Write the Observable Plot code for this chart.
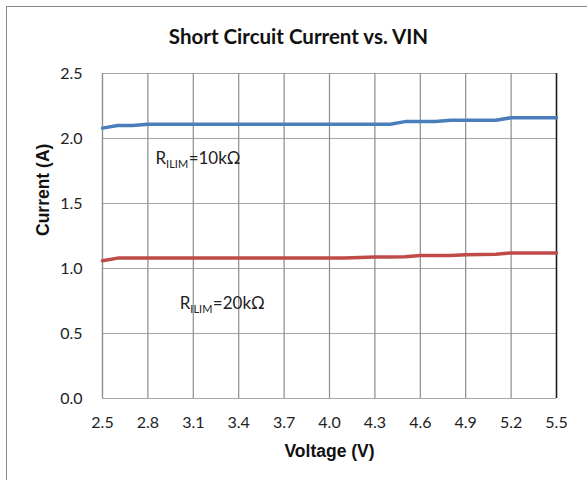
<!DOCTYPE html>
<html>
<head>
<meta charset="utf-8">
<script src="https://cdn.jsdelivr.net/npm/d3@7"></script>
<script src="https://cdn.jsdelivr.net/npm/@observablehq/plot@0.6"></script>
<style>
  html, body { margin: 0; padding: 0; background: #fff; overflow: hidden; }
  #wrap { position: relative; width: 587px; height: 480px; }
  #border { position: absolute; left: 6px; top: 6px; width: 620px; height: 520px; border: 1.5px solid #8a8a8a; box-sizing: border-box; }
  #chart { position: absolute; left: 0; top: 0; }
</style>
</head>
<body>
<div id="wrap"><div id="border"></div><div id="chart"></div></div>
<script>
const title = "Short Circuit Current vs. VIN";
const xTitle = "Voltage (V)";
const yTitle = "Current (A)";
const xTicks = [2.5, 2.8, 3.1, 3.4, 3.7, 4.0, 4.3, 4.6, 4.9, 5.2, 5.5];
const yTicks = [0.0, 0.5, 1.0, 1.5, 2.0, 2.5];
const voltage = [2.5, 2.6, 2.7, 2.8, 2.9, 3.0, 3.1, 3.2, 3.3, 3.4, 3.5, 3.6, 3.7, 3.8, 3.9, 4.0,
                 4.1, 4.2, 4.3, 4.4, 4.5, 4.6, 4.7, 4.8, 4.9, 5.0, 5.1, 5.2, 5.3, 5.4, 5.5];
const current10k = [2.08, 2.10, 2.10, 2.11, 2.11, 2.11, 2.11, 2.11, 2.11, 2.11, 2.11, 2.11, 2.11, 2.11, 2.11, 2.11,
                    2.11, 2.11, 2.11, 2.11, 2.13, 2.13, 2.13, 2.14, 2.14, 2.14, 2.14, 2.16, 2.16, 2.16, 2.16];
const current20k = [1.06, 1.08, 1.08, 1.08, 1.08, 1.08, 1.08, 1.08, 1.08, 1.08, 1.08, 1.08, 1.08, 1.08, 1.08, 1.08,
                    1.08, 1.085, 1.088, 1.088, 1.09, 1.10, 1.10, 1.10, 1.105, 1.108, 1.11, 1.12, 1.12, 1.12, 1.12];
const annotMain = ["R", "R"];
const annotSub = ["ILIM", "ILIM"];
const annotRest = ["=10kΩ", "=20kΩ"];
const annotX = [2.85, 3.01];
const annotY = [1.846, 0.733];

const s10 = voltage.map((v, i) => ({v, c: current10k[i]}));
const s20 = voltage.map((v, i) => ({v, c: current20k[i]}));
const annots = annotMain.map((m, i) => ({m, s: annotSub[i], r: annotRest[i], x: annotX[i], y: annotY[i]}));

const tickFont = "Lato, 'Open Sans', sans-serif";
const boldFont = "'Liberation Sans', Arial, sans-serif";

const chart = Plot.plot({
  width: 587,
  height: 480,
  marginLeft: 102,
  marginRight: 31,
  marginTop: 73,
  marginBottom: 82,
  style: {background: "transparent", fontFamily: tickFont, fontSize: "16px", color: "#222"},
  x: {domain: [2.5, 5.5]},
  y: {domain: [0, 2.5]},
  marks: [
    Plot.gridY(yTicks, {stroke: "#a6a6a6", strokeOpacity: 1, strokeWidth: 1.2}),
    Plot.gridX(xTicks, {stroke: "#8c8c8c", strokeOpacity: 1, strokeWidth: 1.2}),
    Plot.ruleX([2.5], {stroke: "#8c8c8c", strokeWidth: 1.2}),
    Plot.ruleX([5.5], {stroke: "#1a1a1a", strokeWidth: 1.5}),
    Plot.axisX(xTicks, {tickSize: 0, tickPadding: 18, tickFormat: d => d.toFixed(1), label: null, fontSize: 16, fill: "#222"}),
    Plot.axisY(yTicks, {tickSize: 0, tickPadding: 20, tickFormat: d => d.toFixed(1), label: null, fontSize: 16, fill: "#222"}),
    Plot.lineY(s10, {x: "v", y: "c", stroke: "#4a7ebb", strokeWidth: 3.5}),
    Plot.lineY(s20, {x: "v", y: "c", stroke: "#be4b48", strokeWidth: 3.5}),
    Plot.text(annots, {x: "x", y: "y", text: d => d.m + d.s + d.r, textAnchor: "start", fontSize: 17, fill: "#222"}),
    Plot.text([title], {frameAnchor: "top", dx: -31, dy: -36, text: d => d, fontSize: 20.5, fontWeight: "bold", fill: "#111", lineAnchor: "middle"}),
    Plot.text([xTitle], {frameAnchor: "bottom", dy: 53, text: d => d, fontSize: 17.5, fontWeight: "bold", fontFamily: boldFont, fill: "#111", lineAnchor: "middle"}),
    Plot.text([yTitle], {frameAnchor: "left", dx: -59, rotate: -90, text: d => d, fontSize: 17.5, fontWeight: "bold", fontFamily: boldFont, fill: "#111", lineAnchor: "middle"})
  ]
});

document.getElementById("chart").appendChild(chart);

// subscript formatting for the R_ILIM annotations
const full = annots.map(d => d.m + d.s + d.r);
d3.select(chart).selectAll("text").each(function() {
  const i = full.indexOf(this.textContent);
  if (i < 0 || this.childElementCount > 0) return;
  const d = annots[i];
  const t = d3.select(this);
  t.text(null);
  t.append("tspan").text(d.m);
  t.append("tspan").attr("font-size", 11).attr("dy", 4).text(d.s);
  t.append("tspan").attr("dy", -4).attr("dx", 0.5).text(d.r);
});
</script>
</body>
</html>
